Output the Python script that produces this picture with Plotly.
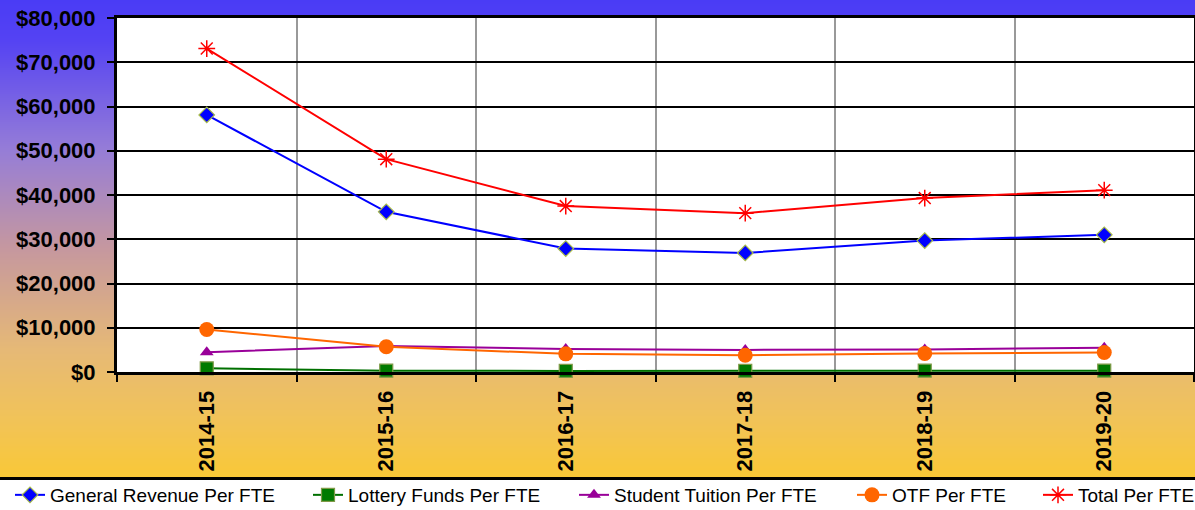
import plotly.graph_objects as go

years = ["2014-15", "2015-16", "2016-17", "2017-18", "2018-19", "2019-20"]
general_revenue = [58100, 36200, 27900, 26900, 29700, 31000]
lottery_funds = [830, 300, 250, 250, 300, 300]
student_tuition = [4450, 5900, 5200, 5000, 5100, 5500]
otf = [9600, 5700, 4100, 3800, 4200, 4400]
total = [73100, 48100, 37500, 35900, 39300, 41100]

FONT = "Arial, Liberation Sans, sans-serif"

# plot-area pixel geometry (used for background / legend placement only)
W, H = 1195, 510
L, R, T, B = 117, 1, 18, 138
PW = W - L - R
PH = H - T - B


def px_to_paper_x(px):
    return (px - L) / PW


def px_to_paper_y(py):
    return (H - B - py) / PH


series = [
    dict(name="General Revenue Per FTE", y=general_revenue, color="#0000FF",
         marker=dict(symbol="diamond", size=12, color="#0000FF",
                     line=dict(color="#A5B94A", width=1.2)), legend="legend", lx=10),
    dict(name="Lottery Funds Per FTE", y=lottery_funds, color="#007000",
         marker=dict(symbol="square", size=13, color="#007A00",
                     line=dict(color="#7F9A48", width=1.2)), legend="legend2", lx=308),
    dict(name="Student Tuition Per FTE", y=student_tuition, color="#990099",
         marker=dict(symbol="triangle-up", size=12, color="#990099",
                     line=dict(color="#990099", width=0)), legend="legend3", lx=574),
    dict(name="OTF Per FTE", y=otf, color="#FF6600",
         marker=dict(symbol="circle", size=15, color="#FF6600",
                     line=dict(color="#FF6600", width=0)), legend="legend4", lx=852),
    dict(name="Total Per FTE", y=total, color="#FF0000",
         marker=dict(symbol="asterisk-open", size=14, color="#FF0000",
                     line=dict(color="#FF0000", width=1.5)), legend="legend5", lx=1038),
]

fig = go.Figure()
for s in series:
    fig.add_trace(go.Scatter(
        x=years, y=s["y"], name=s["name"], mode="lines+markers",
        line=dict(color=s["color"], width=2), marker=s["marker"],
        legend=s["legend"], cliponaxis=False,
    ))

# gradient background (paper) built from stripes
stops = [
    (0, (74, 60, 245)),
    (40, (84, 66, 243)),
    (150, (150, 125, 215)),
    (250, (198, 152, 158)),
    (350, (230, 185, 118)),
    (420, (241, 195, 88)),
    (477, (249, 200, 55)),
]


def color_at(py):
    for (y0, c0), (y1, c1) in zip(stops[:-1], stops[1:]):
        if y0 <= py <= y1:
            f = (py - y0) / (y1 - y0)
            return "rgb(%d,%d,%d)" % tuple(round(a + (b - a) * f) for a, b in zip(c0, c1))
    return "rgb(%d,%d,%d)" % stops[-1][1]


shapes = []
step = 2
for py in range(0, 478, step):
    shapes.append(dict(
        type="rect", xref="paper", yref="paper", layer="below",
        x0=px_to_paper_x(-2), x1=px_to_paper_x(W + 2),
        y0=px_to_paper_y(min(py + step + 0.5, 478)), y1=px_to_paper_y(py - (2 if py == 0 else 0)),
        fillcolor=color_at(py + step / 2), line=dict(width=0),
    ))
# white plot area
shapes.append(dict(type="rect", xref="paper", yref="paper", layer="below",
                   x0=0, x1=1, y0=0, y1=1, fillcolor="white", line=dict(width=0)))
# black separator above legend
shapes.append(dict(type="line", xref="paper", yref="paper", layer="below",
                   x0=px_to_paper_x(-2), x1=px_to_paper_x(W + 2),
                   y0=px_to_paper_y(478.5), y1=px_to_paper_y(478.5),
                   line=dict(color="black", width=3)))

legend_common = dict(
    orientation="h", yanchor="middle", xanchor="left",
    y=px_to_paper_y(495), font=dict(family=FONT, size=19, color="black"),
    bgcolor="rgba(0,0,0,0)", borderwidth=0,
)
legends = {}
for i, s in enumerate(series):
    key = "legend" if i == 0 else "legend%d" % (i + 1)
    legends[key] = dict(legend_common, x=px_to_paper_x(s["lx"]))

fig.update_layout(
    width=W, height=H,
    margin=dict(l=L, r=R, t=T, b=B, pad=0, autoexpand=False),
    paper_bgcolor="white", plot_bgcolor="white",
    font=dict(family=FONT, color="black"),
    shapes=shapes,
    showlegend=True,
    **legends,
)

fig.update_xaxes(
    type="category", range=[-0.5, 5.5], automargin=False,
    tickson="boundaries", ticks="outside", ticklen=7, tickwidth=2, tickcolor="black",
    ticklabelstandoff=7,
    showgrid=True, gridcolor="#999999", gridwidth=2,
    showline=True, linecolor="black", linewidth=3, mirror=True,
    tickangle=-90, tickfont=dict(family=FONT, size=22, color="black", weight="bold"),
)
fig.update_yaxes(
    range=[0, 80000], dtick=10000, tickprefix="$", tickformat=",d", automargin=False,
    ticks="outside", ticklen=7, tickwidth=2, tickcolor="black",
    ticklabelstandoff=7,
    showgrid=True, gridcolor="black", gridwidth=2,
    showline=True, linecolor="black", linewidth=3, mirror=True,
    zeroline=False,
    tickfont=dict(family=FONT, size=22, color="black", weight="bold"),
)

fig.write_html(
    "out.html",
    config={"displayModeBar": False},
    post_script="document.body.style.margin='0';document.body.style.padding='0';"
                "document.body.style.overflow='hidden';",
)
